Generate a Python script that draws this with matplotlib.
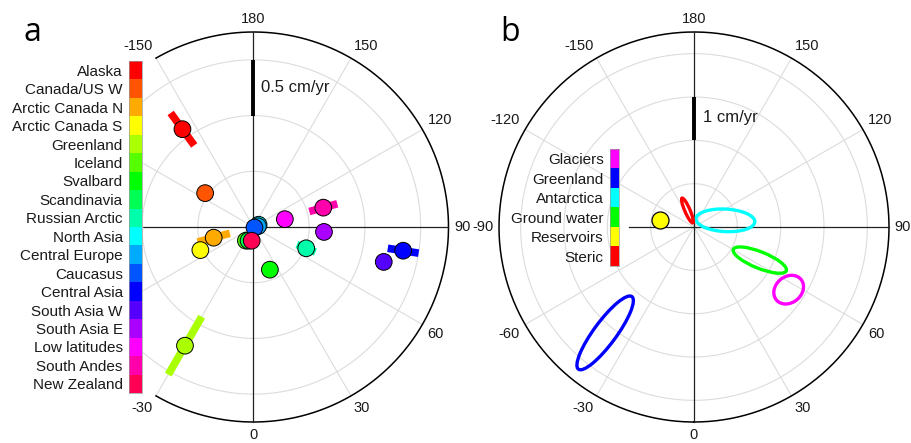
import numpy as np
import matplotlib
matplotlib.use("Agg")
import matplotlib.pyplot as plt
from matplotlib.patches import Ellipse, Rectangle
from matplotlib.colors import hsv_to_rgb

plt.rcParams["font.family"] = ["Liberation Sans", "DejaVu Sans"]

W, H = 912, 443
TXT = "#1a1a1a"
GRID = "#dcdcdc"

# ---- panel a: regional glacier signals (amplitude cm/yr, phase deg) ----
regions = ["Alaska", "Canada/US W", "Arctic Canada N", "Arctic Canada S",
           "Greenland", "Iceland", "Svalbard", "Scandinavia", "Russian Arctic",
           "North Asia", "Central Europe", "Caucasus", "Central Asia",
           "South Asia W", "South Asia E", "Low latitudes", "South Andes",
           "New Zealand"]
amp_a = [1.085, 0.53, 0.37, 0.52, 1.23, 0.14, 0.41, 0.13, 0.51,
         0.05, 0.04, 0.01, 1.36, 1.21, 0.634, 0.29, 0.65, 0.124]
phase_a = [-144, -125, -75, -66.5, -30, -29, 21, -20, 68,
           114, 100, 60, 81, 75, 86, 104, 105.5, -7.5]
amp_err_a = [0.18, 0.0, 0.15, 0.05, 0.30, 0.0, 0.0, 0.0, 0.09,
             0.0, 0.0, 0.0, 0.14, 0.07, 0.0, 0.0, 0.13, 0.0]
theta_labels_a = [180, 150, 120, 90, 60, 30, 0, -30, -150]

# ---- panel b: global components ----
sources = ["Glaciers", "Greenland", "Antarctica", "Ground water",
           "Reservoirs", "Steric"]
src_colors = ["#ff00ff", "#0000ff", "#00ffff", "#00ff00", "#ffff00", "#ff0000"]
amp_b = [2.62, 3.19, 0.74, 1.70, 0.79, 0.41]
phase_b = [56.5, -40, 102, 63.3, -101.6, -158.3]
ell_major_b = [0.37, 1.04, 0.68, 0.66, 0.0, 0.31]
ell_minor_b = [0.30, 0.26, 0.26, 0.19, 0.0, 0.06]
ell_angle_b = [40, 53.6, -3, -22, 0, -66.5]
theta_labels_b = [180, 150, 120, 90, 60, 30, 0, -30, -60, -90, -120, -150]


def to_xy(r, th):
    # phase 0 at bottom, increasing counter-clockwise
    t = np.deg2rad(np.asarray(th, dtype=float))
    return np.asarray(r) * np.sin(t), -np.asarray(r) * np.cos(t)


def make_panel(fig, cx, cy, rmax, ring_step, arc, h_left, labels):
    scale = 195 / rmax
    ax = fig.add_axes([0, 0, 1, 1])
    ax.set_xlim(-cx / scale, (W - cx) / scale)
    ax.set_ylim((cy - H) / scale, cy / scale)
    ax.set_axis_off()
    t = np.linspace(0, 2 * np.pi, 400)
    for r in np.arange(ring_step, rmax - 1e-6, ring_step):
        ax.plot(r * np.cos(t), r * np.sin(t), color=GRID, lw=0.8, zorder=1)
    for a in range(0, 360, 30):
        if a % 90:
            x, y = to_xy(rmax, a)
            ax.plot([0, x], [0, y], color=GRID, lw=0.8, zorder=1)
    th = np.linspace(arc[0], arc[1], 500)
    x, y = to_xy(rmax, th)
    ax.plot(x, y, color="black", lw=1.1, zorder=2)
    ax.plot([0, 0], [-rmax, rmax], color="#222222", lw=0.9, zorder=2)
    ax.plot([h_left, rmax], [0, 0], color="#222222", lw=0.9, zorder=2)
    # angle labels sit just outside the rim, aligned away from it
    for a in labels:
        x, y = to_xy(rmax * 1.03, a)
        ha = "center" if abs(x) < 1e-6 * rmax else ("left" if x > 0 else "right")
        va = "center" if abs(y) < 1e-6 * rmax else ("bottom" if y > 0 else "top")
        ax.text(x, y, str(a), ha=ha, va=va, fontsize=10.5, color=TXT)
    return ax, scale


def color_key(fig, x0, y0, x1, y1, names, colors):
    ax = fig.add_axes([x0 / W, 1 - y1 / H, (x1 - x0) / W, (y1 - y0) / H])
    n = len(names)
    ax.barh(np.arange(n), 1, height=1.0, color=colors)
    ax.set_xlim(0, 1)
    ax.set_ylim(n - 0.5, -0.5)
    ax.set_xticks([])
    ax.set_yticks(np.arange(n))
    ax.set_yticklabels(names, fontsize=11, color=TXT)
    ax.tick_params(axis="y", length=0, pad=4.5)
    for s in ax.spines.values():
        s.set_color("#999999")
        s.set_linewidth(0.5)
    return ax


fig = plt.figure(figsize=(W / 100, H / 100), dpi=100)

# ---------------- panel a ----------------
ax_a, sa = make_panel(fig, 253.5, 227, 1.75, 0.5, (-30, 210), -1.75, theta_labels_a)
# blank strip behind the colour key
ax_a.add_patch(Rectangle((0, 1 - 397 / H), 142 / W, 339 / H,
                         transform=ax_a.transAxes, color="white", zorder=3))
colors_a = [hsv_to_rgb((i / len(regions), 1, 1)) for i in range(len(regions))]
for amp, ph, err, c in zip(amp_a, phase_a, amp_err_a, colors_a):
    if err > 0:
        x, y = to_xy([amp - err, amp + err], [ph, ph])
        ax_a.plot(x, y, color=c, lw=5.5, solid_capstyle="butt", zorder=4)
xa, ya = to_xy(amp_a, phase_a)
ax_a.scatter(xa, ya, s=145, c=colors_a, edgecolors="black", linewidths=0.7, zorder=5)
ax_a.plot([0, 0], [1.0, 1.5], color="black", lw=2.8, solid_capstyle="butt", zorder=5)
ax_a.text(0.068, 1.25, "0.5 cm/yr", ha="left", va="center", fontsize=12, color=TXT)

# ---------------- panel b ----------------
ax_b, sb = make_panel(fig, 694, 227, 4.5, 1.0, (0, 360), -1.5, theta_labels_b)
for amp, ph, ea, eb, ang, c in zip(amp_b, phase_b, ell_major_b, ell_minor_b,
                                   ell_angle_b, src_colors):
    x, y = to_xy(amp, ph)
    if ea > 0:
        ax_b.add_patch(Ellipse((x, y), 2 * ea, 2 * eb, angle=ang, fill=False,
                               ec=c, lw=2.4, zorder=4))
    else:
        ax_b.scatter([x], [y], s=150, c=[c], edgecolors="black", linewidths=0.9, zorder=5)
ax_b.plot([0, 0], [2.0, 3.0], color="black", lw=2.8, solid_capstyle="butt", zorder=5)
ax_b.text(0.2, 2.53, "1 cm/yr", ha="left", va="center", fontsize=12, color=TXT)

# colour keys
color_key(fig, 129, 61, 142, 393, regions, colors_a)
color_key(fig, 610, 149, 619, 266, sources, src_colors)

fig.text(32 / W, 1 - 41 / H, "a", fontsize=23, family="Open Sans", ha="center", va="baseline")
fig.text(510 / W, 1 - 41 / H, "b", fontsize=23, family="Open Sans", ha="center", va="baseline")

fig.savefig("out.png", dpi=100)
